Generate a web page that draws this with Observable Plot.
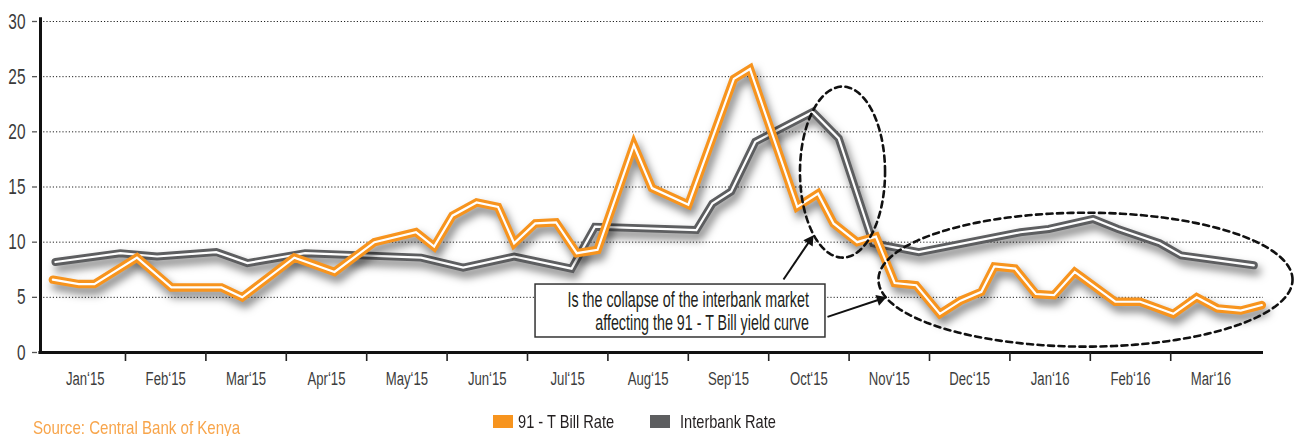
<!DOCTYPE html>
<html>
<head>
<meta charset="utf-8">
<script src="https://cdn.jsdelivr.net/npm/d3@7"></script>
<script src="https://cdn.jsdelivr.net/npm/@observablehq/plot@0.6"></script>
<style>
  html, body { margin: 0; padding: 0; background: #fff; }
  body { font-family: "Liberation Sans", Arial, sans-serif; }
  #wrap { position: relative; width: 1300px; height: 436px; overflow: hidden; }
  #footer { position: relative; width: 1300px; height: 36px; }
  .sw { position: absolute; top: 15px; width: 20px; height: 13px; }
  .lt { position: absolute; top: 13.3px; font-size: 18.5px; line-height: 18.5px; color: #231f20; white-space: nowrap;
        transform: scaleX(0.79); transform-origin: 0 50%; }
  #source { position: absolute; left: 33px; top: 18.5px; font-size: 18.5px; line-height: 18.5px; color: #f8a54b; white-space: nowrap;
        transform: scaleX(0.815); transform-origin: 0 50%; }
</style>
</head>
<body>
<div id="wrap">
  <div id="chart"></div>
  <div id="footer">
    <div id="source">Source: Central Bank of Kenya</div>
    <div class="sw" style="left:493px;background:#f7941e"></div>
    <div class="lt" style="left:518px">91 - T Bill Rate</div>
    <div class="sw" style="left:650px;background:#5d5e60"></div>
    <div class="lt" style="left:680px">Interbank Rate</div>
  </div>
</div>
<script>
// ---------- data ----------
const monthLabels = ["Jan‘15","Feb‘15","Mar‘15","Apr‘15","May‘15","Jun‘15","Jul‘15","Aug‘15","Sep‘15","Oct‘15","Nov‘15","Dec‘15","Jan‘16","Feb‘16","Mar‘16"];
const yTicks = [0, 5, 10, 15, 20, 25, 30];

const tbillDates = ["2015-01-04","2015-01-14","2015-01-20","2015-02-05","2015-02-17","2015-03-07","2015-03-15","2015-04-04","2015-04-19","2015-05-04","2015-05-20","2015-05-27","2015-06-03","2015-06-12","2015-06-20","2015-06-26","2015-07-04","2015-07-12","2015-07-20","2015-07-28","2015-08-11","2015-08-18","2015-09-01","2015-09-18","2015-09-24","2015-10-12","2015-10-20","2015-10-26","2015-11-04","2015-11-11","2015-11-18","2015-11-26","2015-12-05","2015-12-13","2015-12-21","2015-12-26","2016-01-03","2016-01-11","2016-01-18","2016-01-26","2016-02-10","2016-02-19","2016-03-02","2016-03-11","2016-03-19","2016-03-28","2016-04-05"];
const tbillRates = [6.6,6.2,6.2,8.6,5.9,5.9,5.0,8.6,7.3,10.0,10.9,9.6,12.4,13.6,13.2,9.9,11.7,11.8,9.0,9.3,18.8,14.9,13.4,24.8,25.7,13.2,14.4,11.7,10.0,10.5,6.3,6.1,3.5,4.7,5.5,7.8,7.6,5.3,5.2,7.3,4.6,4.6,3.5,5.0,4.0,3.8,4.3];

const interbankDates = ["2015-01-05","2015-01-30","2015-02-12","2015-03-05","2015-03-17","2015-04-08","2015-05-22","2015-06-07","2015-06-26","2015-07-18","2015-07-27","2015-09-04","2015-09-10","2015-09-17","2015-09-26","2015-10-18","2015-10-28","2015-11-10","2015-11-27","2016-01-05","2016-01-16","2016-02-02","2016-02-11","2016-02-26","2016-03-05","2016-04-02"];
const interbankRates = [8.2,9.0,8.7,9.1,8.1,9.0,8.6,7.7,8.7,7.6,11.4,11.1,13.5,14.6,19.1,21.8,19.4,9.9,9.1,10.9,11.2,12.1,11.2,9.9,8.8,7.9];

// annotations (in month-index / rate units)
const ellipseCx = [9.918, 12.94];
const ellipseCy = [16.35, 6.60];
const ellipseRx = [0.529, 2.575];
const ellipseRy = [7.75, 6.07];
const arrowFrom = [[9.184, 6.62], [9.731, 3.23]];
const arrowTo = [[9.557, 10.63], [10.465, 5.01]];
const noteBox = {x1: 6.10, x2: 9.706, y1: 1.36, y2: 6.16};
const noteLines = ["Is the collapse of the interbank market", "affecting the 91 - T Bill yield curve"];
const noteX = 9.50;
const noteY = [4.08, 2.02];

// ---------- build ----------
const FONT = '"Liberation Sans", Arial, sans-serif';
const X0 = -0.057, X1 = 15.154;
const W = 1300, H = 400, ML = 40, MR = 37, MT = 21, MB = 48;
const kx = (W - ML - MR) / (X1 - X0), ky = (H - MT - MB) / 30;

function mIdx(s) {
  const [y, m, d] = s.split("-").map(Number);
  const days = new Date(Date.UTC(y, m, 0)).getUTCDate();
  return (y - 2015) * 12 + (m - 1) + (d - 1) / days;
}
const tbill = tbillDates.map((d, i) => ({x: mIdx(d), y: tbillRates[i]}));
const interbank = interbankDates.map((d, i) => ({x: mIdx(d), y: interbankRates[i]}));

const ellipses = ellipseCx.map((cx, k) =>
  d3.range(0, 361, 2).map(t => ({
    k,
    x: cx + ellipseRx[k] * Math.cos(t * Math.PI / 180),
    y: ellipseCy[k] + ellipseRy[k] * Math.sin(t * Math.PI / 180)
  }))).flat();

const arrows = arrowFrom.map((f, i) => {
  const t = arrowTo[i];
  const dxp = (t[0] - f[0]) * kx, dyp = (t[1] - f[1]) * ky;
  const len = Math.hypot(dxp, dyp);
  const back = 6.5;
  const hx = t[0] - (dxp / len) * back / kx;
  const hy = t[1] - (dyp / len) * back / ky;
  return {x1: f[0], y1: f[1], x2: hx, y2: hy, rot: Math.atan2(dxp, dyp) * 180 / Math.PI};
});

const notes = noteLines.map((text, i) => ({text, y: noteY[i]}));

const lineOpts = {x: "x", y: "y", strokeLinecap: "round", strokeLinejoin: "miter", strokeMiterlimit: 3};

const plot = Plot.plot({
  width: W, height: H,
  marginLeft: ML, marginRight: MR, marginTop: MT, marginBottom: MB,
  style: {fontFamily: FONT, background: "#fff", overflow: "visible"},
  x: {type: "linear", domain: [X0, X1]},
  y: {domain: [0, 30]},
  marks: [
    Plot.ruleY(yTicks.filter(d => d > 0), {x1: X0, x2: X1, stroke: "#222", strokeWidth: 1, strokeDasharray: "1.2,2"}),
    Plot.line(interbank, {...lineOpts, stroke: "#5d5e60", strokeWidth: 8, ariaDescription: "shadow"}),
    Plot.line(interbank, {...lineOpts, stroke: "#fff", strokeWidth: 2.2}),
    Plot.line(tbill, {...lineOpts, stroke: "#f7941e", strokeWidth: 8.5, ariaDescription: "shadow"}),
    Plot.line(tbill, {...lineOpts, stroke: "#fff", strokeWidth: 2.2}),
    Plot.ruleX([X0], {y1: 0, y2: 30.35, stroke: "#111", strokeWidth: 3}),
    Plot.ruleY([0], {x1: X0 - 0.02, x2: X1, stroke: "#111", strokeWidth: 3}),
    Plot.axisY({ticks: yTicks, tickFormat: d => d, tickSize: 5, tickPadding: 7, dx: -3,
      fontSize: 22, fill: "#3a3a3a", stroke: "#555", strokeWidth: 1.3, label: null}),
    Plot.axisX({ticks: d3.range(1, 15), tickFormat: () => "", tickSize: 9, stroke: "#222", strokeWidth: 1.6, label: null}),
    Plot.axisX({ticks: d3.range(0, 15).map(i => i + 0.5), tickFormat: d => monthLabels[Math.round(d - 0.5)],
      tickSize: 0, tickPadding: 20, fontSize: 18, fill: "#3d3d3d", label: null}),
    Plot.line(ellipses, {x: "x", y: "y", z: "k", stroke: "#111", strokeWidth: 2.6, strokeDasharray: "6,4.5"}),
    Plot.link(arrows, {x1: "x1", y1: "y1", x2: "x2", y2: "y2", stroke: "#111", strokeWidth: 2}),
    Plot.dot(arrows, {x: "x2", y: "y2", symbol: "triangle", r: 4.2, fill: "#111", stroke: null, rotate: "rot"}),
    Plot.rect([noteBox], {x1: "x1", x2: "x2", y1: "y1", y2: "y2", fill: "#fff", stroke: "#333", strokeWidth: 1.5}),
    Plot.text(notes, {x: noteX, y: "y", text: "text", textAnchor: "end", lineAnchor: "bottom", fontSize: 22.5, fill: "#231f20"})
  ]
});

document.getElementById("chart").appendChild(plot);

// condensed look: squeeze each text horizontally (stays real text)
function squeeze(fs) {
  if (fs >= 22.4) return 0.635; // annotation
  if (fs >= 21) return 0.70;    // y ticks
  return 0.73;                  // month labels
}
plot.querySelectorAll("text").forEach(t => {
  const fs = parseFloat(getComputedStyle(t).fontSize);
  const len = t.getComputedTextLength();
  if (len > 0) {
    t.setAttribute("textLength", (len * squeeze(fs)).toFixed(2));
    t.setAttribute("lengthAdjust", "spacingAndGlyphs");
  }
});

// soft drop shadow under the coloured strokes
let shadowed = plot.querySelectorAll('g[aria-description="shadow"]');
if (shadowed.length === 0) {
  const lines = plot.querySelectorAll('g[aria-label="line"]');
  shadowed = [lines[0], lines[2]];
}
shadowed.forEach(g => g && (g.style.filter = "drop-shadow(3px 6px 4px rgba(0,0,0,0.5))"));
</script>
</body>
</html>
